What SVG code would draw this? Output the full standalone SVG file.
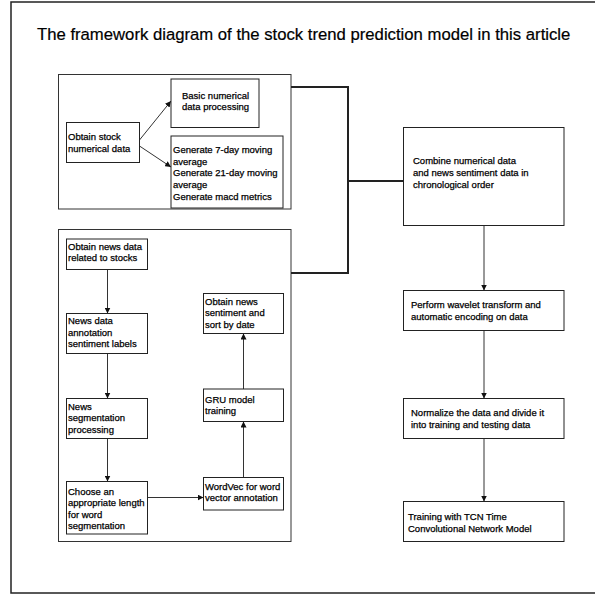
<svg xmlns="http://www.w3.org/2000/svg" width="595" height="595" viewBox="0 0 595 595">
<defs>
<style>
text{font-family:"Liberation Sans",Arial,sans-serif;font-size:9.5px;fill:#000;stroke:#000;stroke-width:0.25}
.title{font-size:16.7px;stroke-width:0.2}
.box{fill:#fff;stroke:#222;stroke-width:1}
.grp{fill:none;stroke:#333;stroke-width:1}
.frame{fill:none;stroke:#222;stroke-width:1.5}
.arr{fill:none;stroke:#333;stroke-width:1;marker-end:url(#ah)}
.bus{fill:none;stroke:#222;stroke-width:2}
</style>
<marker id="ah" viewBox="0 0 10 10" refX="10" refY="5" markerWidth="6" markerHeight="6" markerUnits="userSpaceOnUse" orient="auto">
<path d="M0,0 L10,5 L0,10 z" fill="#111"/>
</marker>
</defs>
<rect class="frame" x="11" y="2" width="600" height="591"/>
<text class="title" x="37" y="40">The framework diagram of the stock trend prediction model in this article</text>

<g id="group-numerical"><rect class="grp" x="58.5" y="74.5" width="232.5" height="134.5"/></g>
<g id="group-news"><rect class="grp" x="58.5" y="229.5" width="232.5" height="312"/></g>

<g id="connectors">
<path class="arr" d="M139.5,140 L171,101"/>
<path class="arr" d="M139.5,146 L171,167"/>
<path class="arr" d="M107.5,269.5 V313.5"/>
<path class="arr" d="M107.5,353.5 V398.5"/>
<path class="arr" d="M107.5,438.5 V481.5"/>
<path class="arr" d="M147.5,497.5 H203.5"/>
<path class="arr" d="M243.5,477.5 V421.5"/>
<path class="arr" d="M243.5,389 V333.5"/>
<path class="bus" d="M291,87 H348 V273 H291"/>
<path class="bus" d="M348,181 H403.5"/>
<path class="arr" d="M484,225.5 V290.5"/>
<path class="arr" d="M484,330.5 V398.5"/>
<path class="arr" d="M484,438.5 V501.5"/>
</g>

<g id="n-obtain-stock"><rect class="box" x="66.5" y="122.5" width="73" height="40"/>
<text x="68" y="139.5">Obtain stock</text><text x="68" y="151.5">numerical data</text></g>

<g id="n-basic"><rect class="box" x="171" y="79" width="88" height="48.5"/>
<text x="182" y="98.5">Basic numerical</text><text x="182" y="110">data processing</text></g>

<g id="n-generate"><rect class="box" x="171" y="136" width="112" height="72"/>
<text x="173" y="152.8">Generate 7-day moving</text><text x="173" y="164.5">average</text>
<text x="173" y="176.2">Generate 21-day moving</text><text x="173" y="187.8">average</text>
<text x="173" y="199.5">Generate macd metrics</text></g>

<g id="n-obtain-news"><rect class="box" x="66.5" y="239" width="81" height="30.5"/>
<text x="68" y="249.5">Obtain news data</text><text x="68" y="261">related to stocks</text></g>

<g id="n-annotation"><rect class="box" x="66.5" y="313.5" width="81" height="40"/>
<text x="68" y="324.2">News data</text><text x="68" y="335.5">annotation</text><text x="68" y="347.3">sentiment labels</text></g>

<g id="n-segmentation"><rect class="box" x="66.5" y="398.5" width="81" height="40"/>
<text x="68" y="409.5">News</text><text x="68" y="421">segmentation</text><text x="68" y="432.7">processing</text></g>

<g id="n-choose"><rect class="box" x="66.5" y="481.5" width="81" height="52.5"/>
<text x="68" y="494.5">Choose an</text><text x="68" y="506">appropriate length</text><text x="68" y="517.5">for word</text><text x="68" y="529">segmentation</text></g>

<g id="n-wordvec"><rect class="box" x="203.5" y="477.5" width="80" height="32.5"/>
<text x="205" y="489.5">WordVec for word</text><text x="205" y="501">vector annotation</text></g>

<g id="n-gru"><rect class="box" x="203.5" y="389" width="80" height="32.5"/>
<text x="205" y="402.5">GRU model</text><text x="205" y="414">training</text></g>

<g id="n-sentiment"><rect class="box" x="203.5" y="293.5" width="80" height="40"/>
<text x="205" y="305">Obtain news</text><text x="205" y="316.3">sentiment and</text><text x="205" y="327.5">sort by date</text></g>

<g id="n-combine"><rect class="box" x="403.5" y="127.5" width="160.5" height="98"/>
<text x="413" y="163.5">Combine numerical data</text><text x="413" y="175.5">and news sentiment data in</text><text x="413" y="187.5">chronological order</text></g>

<g id="n-wavelet"><rect class="box" x="403.5" y="290.5" width="160.5" height="40"/>
<text x="411" y="307.5">Perform wavelet transform and</text><text x="411" y="319.5">automatic encoding on data</text></g>

<g id="n-normalize"><rect class="box" x="403.5" y="398.5" width="160.5" height="40"/>
<text x="411" y="416">Normalize the data and divide it</text><text x="411" y="427.5">into training and testing data</text></g>

<g id="n-tcn"><rect class="box" x="403.5" y="501.5" width="160.5" height="40"/>
<text x="408" y="519.5">Training with TCN Time</text><text x="408" y="531.8">Convolutional Network Model</text></g>
</svg>
